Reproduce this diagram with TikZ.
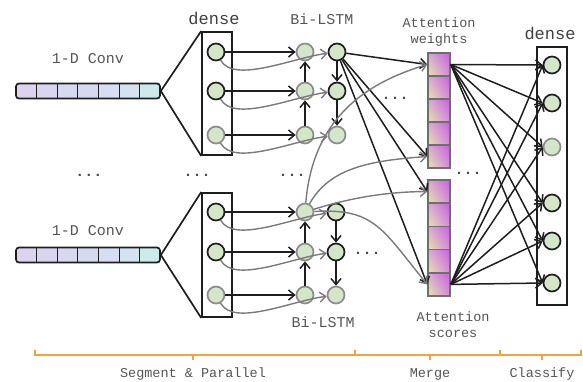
\documentclass[tikz,border=0pt]{standalone}
\usepackage{fontspec}
\newfontfamily\monof{Liberation Mono}
\usetikzlibrary{arrows.meta,shadings}
\definecolor{nodefill}{HTML}{D3E6C8}
\definecolor{darkline}{HTML}{1E1E1E}
\definecolor{lightline}{HTML}{8C8C8C}
\definecolor{txtgrey}{HTML}{555555}
\definecolor{orangeb}{HTML}{F2A33A}
\definecolor{curvegrey}{HTML}{7A7A7A}
\definecolor{cellline}{HTML}{6E6E6E}
\definecolor{cv1}{HTML}{DCD4EE}
\definecolor{cv2}{HTML}{DAD5EF}
\definecolor{cv3}{HTML}{D8D8F0}
\definecolor{cv4}{HTML}{D6DAF0}
\definecolor{cv5}{HTML}{D5DEF2}
\definecolor{cv6}{HTML}{D3E3F2}
\definecolor{cv7}{HTML}{CDEAEA}
\definecolor{atUL}{HTML}{D8A8D4}
\definecolor{atUR}{HTML}{C860E0}
\definecolor{atLL}{HTML}{E6E6A8}
\definecolor{atLR}{HTML}{D48CDC}
\begin{document}
\begin{tikzpicture}[x=1pt,y=-1pt,
  neuron/.style={circle, draw=darkline, fill=nodefill, line width=1.7pt, minimum size=17pt, inner sep=0pt},
  neuronl/.style={neuron, draw=lightline},
  boxn/.style={draw=darkline, line width=1.7pt, inner sep=0pt, minimum width=30pt},
  convcell/.style={inner sep=0pt, minimum width=20.57pt, minimum height=15pt},
  convbar/.style={draw=darkline, line width=1.7pt, rounded corners=3pt, inner sep=0pt, minimum width=144pt, minimum height=15pt},
  attcell/.style={draw=cellline, line width=1.5pt, minimum width=22pt, minimum height=23.2pt, inner sep=0pt,
     upper left=atUL, upper right=atUR, lower left=atLL, lower right=atLR},
  lbl/.style={font=\monof\fontsize{15}{17}\selectfont, text=txtgrey},
  lbls/.style={font=\monof\fontsize{13.5}{16}\selectfont, text=txtgrey, align=center},
  densel/.style={font=\monof\fontsize{17}{19}\selectfont, text=darkline!85},
  dots/.style={font=\monof\bfseries\fontsize{15}{16}\selectfont, text=darkline!80},
  arr/.style={-{Straight Barb[length=6pt,width=10pt]}, line width=1.5pt, draw=darkline},
  garr/.style={-{Straight Barb[length=6pt,width=10pt]}, line width=1.4pt, draw=curvegrey},
  bracket/.style={draw=orangeb, line width=1.8pt}
]
\useasboundingbox (0,0) rectangle (583,381);

% ---- 1-D conv bars
\foreach \g/\yy in {T/91,B/255}{
  \foreach \i in {1,...,7}{
    \node[convcell, fill=cv\i] (conv\g\i) at ({16+20.571*(\i-0.5)},\yy) {};
  }
  \foreach \i in {1,...,6}{
    \draw[darkline, line width=1.1pt] (conv\g\i.north east) -- (conv\g\i.south east);
  }
  \node[convbar] (conv\g) at (88,\yy) {};
}
\node[lbl] (lconvT) at (88,59) {1-D Conv};
\node[lbl] (lconvB) at (88,231) {1-D Conv};

% ---- dense boxes
\node[boxn, minimum height=123pt] (denseT) at (217,93.5) {};
\node[boxn, minimum height=124pt] (denseB) at (217,255) {};
\draw[darkline, line width=1.7pt] (denseT.north west) -- (convT.east) -- (denseT.south west);
\draw[darkline, line width=1.7pt] (denseB.north west) -- (convB.east) -- (denseB.south west);
\node[densel] (ldense) at (214,18) {dense};

% ---- neurons top group
\node[neuron]  (dT1) at (216,52) {};
\node[neuron]  (dT2) at (216,91) {};
\node[neuronl] (dT3) at (216,135) {};
\node[neuronl] (fT1) at (305,52) {};
\node[neuronl] (fT2) at (305,91) {};
\node[neuronl] (fT3) at (305,135) {};
\node[neuron]  (bT1) at (337,52) {};
\node[neuron]  (bT2) at (337,91) {};
\node[neuronl] (bT3) at (337,135) {};
% ---- neurons bottom group
\node[neuron]  (dB1) at (216,212) {};
\node[neuron]  (dB2) at (216,252) {};
\node[neuronl] (dB3) at (216,295) {};
\node[neuronl] (fB1) at (305,212) {};
\node[neuronl] (fB2) at (305,252) {};
\node[neuronl] (fB3) at (305,295) {};
\node[neuron]  (bB1) at (336,212) {};
\node[neuron]  (bB2) at (336,252) {};
\node[neuronl] (bB3) at (336,295) {};

\node[lbl] (lbiT) at (322,19) {Bi-LSTM};
\node[lbl] (lbiB) at (323,322) {Bi-LSTM};

% dense -> forward LSTM, and grey curves to backward LSTM
\foreach \g in {T,B}{
  \foreach \i in {1,2,3}{
    \draw[arr] (d\g\i) -- (f\g\i);
    \draw[garr] (d\g\i) .. controls +(18,32) and +(-45,6) .. (b\g\i);
  }
  \draw[arr] (f\g3) -- (f\g2);
  \draw[arr] (f\g2) -- (f\g1);
  \draw[arr] (b\g1) -- (b\g2);
  \draw[arr] (b\g2) -- (b\g3);
}

% ---- attention bars
\foreach \i in {1,...,5}{
  \node[attcell] (w\i) at (439,{53+23*(\i-0.5)}) {};
  \node[attcell] (s\i) at (439,{180+23.2*(\i-0.5)}) {};
}
\node[lbls] (lweights) at (439,32) {Attention\\weights};
\node[lbls] (lscores) at (453,325) {Attention\\scores};

% ---- right dense
\node[boxn, minimum height=258pt] (denseR) at (552,176) {};
\node[densel] (ldenseR) at (550,33) {dense};
\node[neuron]  (r1) at (552,65) {};
\node[neuron]  (r2) at (552,103) {};
\node[neuronl] (r3) at (552,147) {};
\node[neuron]  (r4) at (552,203) {};
\node[neuron]  (r5) at (552,241) {};
\node[neuron]  (r6) at (552,283) {};

% ---- LSTM -> attention
\draw[arr] (bT1) -- (w1.west);
\draw[arr] (bT1) -- (w5.west);
\draw[arr] (bT1) -- (s1.west);
\draw[arr] (bT1) -- (s5.west);
\draw[garr] (fB1) .. controls +(8,-95) and +(-60,18) .. (w1.west);
\draw[garr] (fB1) .. controls +(25,-45) and +(-55,4) .. (w5.west);
\draw[garr] (fB1) .. controls +(45,-14) and +(-40,0) .. (s1.west);
\draw[garr] (fB1) .. controls +(70,-4) and +(-45,-55) .. (s5.west);

% ---- attention -> dense
\foreach \i in {1,...,6}{
  \draw[arr] (w1.east) -- (r\i.west);
  \draw[arr] (s5.east) -- (r\i.west);
}

% ---- dots
\node[dots] (dt1) at (89,175) {...};
\node[dots] (dt2) at (197,175) {...};
\node[dots] (dt3) at (292,175) {...};
\node[dots] (dt4) at (395,98) {...};
\node[dots] (dt5) at (367,253) {...};
\node[dots] (dt6) at (468,173) {...};

% ---- bottom bracket
\coordinate (bl) at (35,355);
\coordinate (br) at (581,355);
\draw[bracket] ([yshift=5pt]bl) -- (bl) -- (br) -- ([yshift=5pt]br);
\foreach \x in {355,500}{ \draw[bracket] (\x,355) -- (\x,350); }
\foreach \x in {193,430,542}{ \draw[bracket] (\x,355) -- (\x,360); }
\node[lbls] (lseg) at (193,374) {Segment \& Parallel};
\node[lbls] (lmerge) at (430,374) {Merge};
\node[lbls] (lclass) at (542,374) {Classify};
\end{tikzpicture}
\end{document}
